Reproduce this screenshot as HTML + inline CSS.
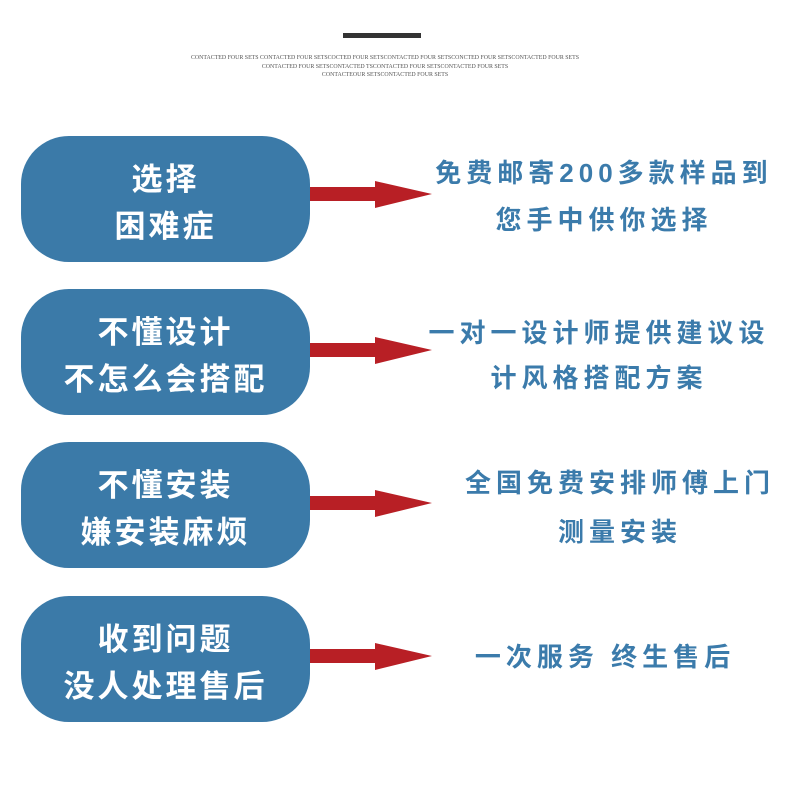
<!DOCTYPE html>
<html><head><meta charset="utf-8"><style>
body{margin:0;width:790px;height:790px;background:#fff;position:relative;overflow:hidden;font-family:"Liberation Sans","Noto Sans CJK SC",sans-serif}
.bar{position:absolute;left:343px;top:33px;width:78px;height:5px;background:#333}
.small{position:absolute;left:0;width:770px;text-align:center;font-family:"Liberation Serif",serif;font-size:5.9px;color:#555;line-height:8.5px;top:54px}
.box{position:absolute;left:21px;width:289px;height:126px;box-sizing:border-box;padding-top:8px;border-radius:48px;background:#3b7aa8;color:#fff;font-weight:bold;font-size:31px;letter-spacing:3px;text-align:center;display:flex;flex-direction:column;justify-content:center;line-height:47px}
.arr{position:absolute;left:310px}
.t{position:absolute;color:#3b7bab;font-weight:bold;font-size:26px;letter-spacing:5px;text-align:center;width:420px;line-height:26px}
</style></head><body>
<div class="bar"></div>
<div class="small">CONTACTED FOUR SETS CONTACTED FOUR SETSCOCTED FOUR SETSCONTACTED FOUR SETSCONCTED FOUR SETSCONTACTED FOUR SETS<br>CONTACTED FOUR SETSCONTACTED TSCONTACTED FOUR SETSCONTACTED FOUR SETS<br>CONTACTEOUR SETSCONTACTED FOUR SETS</div>

<div class="box" style="top:136px"><div>选择</div><div>困难症</div></div>
<div class="box" style="top:289px"><div>不懂设计</div><div>不怎么会搭配</div></div>
<div class="box" style="top:442px"><div>不懂安装</div><div>嫌安装麻烦</div></div>
<div class="box" style="top:596px"><div>收到问题</div><div>没人处理售后</div></div>

<svg class="arr" style="top:180px" width="125" height="30"><polygon points="0,7 65,7 65,1 122,14 65,28 65,21 0,21" fill="#b81f25"/></svg>
<svg class="arr" style="top:336px" width="125" height="30"><polygon points="0,7 65,7 65,1 122,14 65,28 65,21 0,21" fill="#b81f25"/></svg>
<svg class="arr" style="top:489px" width="125" height="30"><polygon points="0,7 65,7 65,1 122,14 65,28 65,21 0,21" fill="#b81f25"/></svg>
<svg class="arr" style="top:642px" width="125" height="30"><polygon points="0,7 65,7 65,1 122,14 65,28 65,21 0,21" fill="#b81f25"/></svg>

<div class="t" style="left:394px;top:160px">免费邮寄200多款样品到</div>
<div class="t" style="left:394px;top:207px">您手中供你选择</div>
<div class="t" style="left:389px;top:320px">一对一设计师提供建议设</div>
<div class="t" style="left:389px;top:365px">计风格搭配方案</div>
<div class="t" style="left:410px;top:470px">全国免费安排师傅上门</div>
<div class="t" style="left:410px;top:519px">测量安装</div>
<div class="t" style="left:395px;top:644px">一次服务 终生售后</div>
</body></html>
